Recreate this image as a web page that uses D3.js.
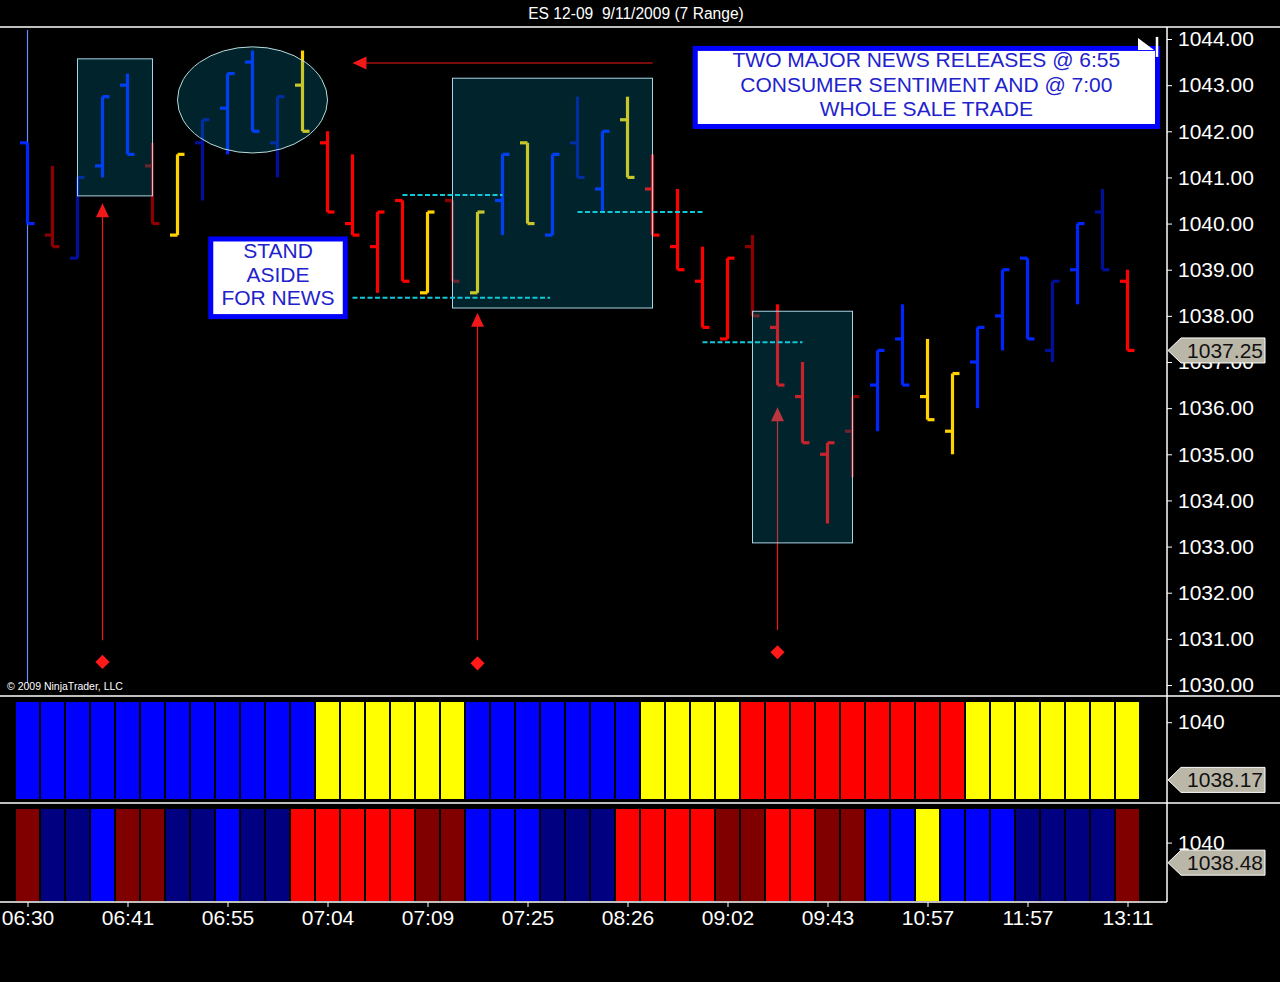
<!DOCTYPE html>
<meta charset="utf-8">

<!-- Load d3.js -->
<script src="https://d3js.org/d3.v7.min.js"></script>

<style>
    body { margin: 0; background: #000; }
    text { font-family: "Liberation Sans", Arial, sans-serif; }
</style>

<!-- Create a div where the graph will take place -->
<div id="ES_Range"></div>

<script>

    // time labels, one every 4 bars
    var times = ["06:30", "06:41", "06:55", "07:04", "07:09", "07:25", "08:26", "09:02", "09:43", "10:57", "11:57", "13:11"];
    var timeBars = [0, 4, 8, 12, 16, 20, 24, 28, 32, 36, 40, 44];

    // price axis tick labels
    var priceTicks = [1030, 1031, 1032, 1033, 1034, 1035, 1036, 1037, 1038, 1039, 1040, 1041, 1042, 1043, 1044];

    // 7 range bars (open / high / low / close)
    var opens  = [1041.75, 1039.75, 1039.25, 1041.25, 1043.00, 1041.25, 1039.75, 1041.75, 1042.50, 1043.50, 1041.75, 1043.00,
                  1041.75, 1040.00, 1039.50, 1040.50, 1038.50, 1040.50, 1038.50, 1040.50, 1041.75, 1039.75, 1041.75, 1040.75,
                  1042.25, 1040.75, 1039.50, 1038.75, 1037.50, 1039.50, 1037.75, 1036.25, 1035.00, 1035.50, 1036.50, 1037.50,
                  1036.25, 1035.50, 1037.00, 1038.00, 1039.25, 1037.25, 1039.00, 1040.25, 1038.75];
    var highs  = [1041.75, 1041.25, 1041.00, 1042.75, 1043.25, 1041.75, 1041.50, 1042.25, 1043.25, 1043.75, 1042.75, 1043.75,
                  1042.00, 1041.50, 1040.25, 1040.50, 1040.25, 1040.50, 1040.25, 1041.50, 1041.75, 1041.50, 1042.75, 1042.00,
                  1042.75, 1041.50, 1040.75, 1039.50, 1039.25, 1039.75, 1038.25, 1037.00, 1035.25, 1036.25, 1037.25, 1038.25,
                  1037.50, 1036.75, 1037.75, 1039.00, 1039.25, 1038.75, 1040.00, 1040.75, 1039.00];
    var lows   = [1040.00, 1039.50, 1039.25, 1041.00, 1041.50, 1040.00, 1039.75, 1040.50, 1041.50, 1042.00, 1041.00, 1042.00,
                  1040.25, 1039.75, 1038.50, 1038.75, 1038.50, 1038.75, 1038.50, 1039.75, 1040.00, 1039.75, 1041.00, 1040.25,
                  1041.00, 1039.75, 1039.00, 1037.75, 1037.50, 1038.00, 1036.50, 1035.25, 1033.50, 1034.50, 1035.50, 1036.50,
                  1035.75, 1035.00, 1036.00, 1037.25, 1037.50, 1037.00, 1038.25, 1039.00, 1037.25];
    var closes = [1040.00, 1039.50, 1041.00, 1042.75, 1041.50, 1040.00, 1041.50, 1042.25, 1043.25, 1042.00, 1042.75, 1042.00,
                  1040.25, 1039.75, 1040.25, 1038.75, 1040.25, 1038.75, 1040.25, 1041.50, 1040.00, 1041.50, 1041.00, 1042.00,
                  1041.00, 1039.75, 1039.00, 1037.75, 1039.25, 1038.00, 1036.50, 1035.25, 1035.25, 1036.25, 1037.25, 1036.50,
                  1035.75, 1036.75, 1037.75, 1039.00, 1037.50, 1038.75, 1040.00, 1039.00, 1037.25];

    // colour of each price bar
    var barColor = ["B", "DR", "DB", "B", "B", "DR", "Y", "DB", "B", "B", "DB", "Y",
                    "R", "R", "R", "R", "Y", "DR", "Y", "B", "Y", "B", "DB", "B",
                    "Y", "R", "R", "R", "R", "DR", "R", "R", "R", "DR", "B", "B",
                    "Y", "Y", "B", "B", "B", "DB", "B", "DB", "R"];

    // colour blocks of the two lower panels
    var trendColor = ["B", "B", "B", "B", "B", "B", "B", "B", "B", "B", "B", "B",
                      "Y", "Y", "Y", "Y", "Y", "Y", "B", "B", "B", "B", "B", "B",
                      "B", "Y", "Y", "Y", "Y", "R", "R", "R", "R", "R", "R", "R",
                      "R", "R", "Y", "Y", "Y", "Y", "Y", "Y", "Y"];
    var signalColor = ["DR", "DB", "DB", "B", "DR", "DR", "DB", "DB", "B", "DB", "DB", "R",
                       "R", "R", "R", "R", "DR", "DR", "B", "B", "B", "DB", "DB", "DB",
                       "R", "R", "R", "R", "DR", "DR", "R", "R", "DR", "DR", "B", "B",
                       "Y", "B", "B", "B", "DB", "DB", "DB", "DB", "DR"];

    // last values shown in the axis tags
    var lastPrice = 1037.25, trendLast = 1038.17, signalLast = 1038.48;

    // drawing objects: [first bar, last bar, top price, bottom price]
    var boxes = [[2, 5, 1043.57, 1040.60], [17, 25, 1043.15, 1038.17], [29, 33, 1038.10, 1033.08]];
    var ellipse = [6, 12, 1043.83, 1041.53];
    // dashed levels: [first bar, last bar, price]
    var levels = [[15, 19, 1040.62], [13, 20.9, 1038.39], [22, 27, 1040.25], [27, 31, 1037.43]];
    // up arrows: [bar, from price, tip price] and diamonds: [bar, price]
    var upArrows = [[3, 1030.97, 1040.44], [18, 1030.97, 1038.07], [30, 1031.19, 1036.02]];
    var diamonds = [[3, 1030.50], [18, 1030.47], [30, 1030.71]];
    var leftArrow = [25, 13, 1043.48];

    var barPalette = {B: "#0026ff", DB: "#00109a", R: "#ff0000", DR: "#8c0000", Y: "#ffd200"};
    var blockPalette = {B: "#0000ff", DB: "#000080", R: "#ff0000", DR: "#800000", Y: "#ffff00"};

    var width = 1280, height = 982, axisX = 1167;

    var svg = d3.select("#ES_Range")
      .append("svg")
        .attr("width", width)
        .attr("height", height)
        .style("background", "#000");

    // scales
    var x = d3.scaleLinear().domain([0, 44]).range([27.5, 1127.5]);
    var y = d3.scaleLinear().domain([1030, 1044]).range([685, 39]);
    var yTrend = d3.scaleLinear().domain([1037.5, 1040.8]).range([801, 697]);
    var ySignal = d3.scaleLinear().domain([1035.5, 1043.0]).range([902, 803]);

    // title
    svg.append("text")
        .attr("x", 636)
        .attr("y", 18.5)
        .attr("text-anchor", "middle")
        .style("white-space", "pre")
        .style("font-size", "15.6px")
        .attr("fill", "#fff")
        .text("ES 12-09  9/11/2009 (7 Range)");

    // session start line
    svg.append("line")
        .attr("x1", x(0)).attr("x2", x(0))
        .attr("y1", 30).attr("y2", 683)
        .attr("stroke", "#6a8cff").attr("stroke-width", 1.2);

    // arrows to the news bars (under the boxes)
    upArrows.forEach(function(a) {
        var cx = x(a[0]), tip = y(a[2]);
        svg.append("line")
            .attr("x1", cx).attr("x2", cx)
            .attr("y1", y(a[1])).attr("y2", tip + 12)
            .attr("stroke", "#f01818").attr("stroke-width", 1.2);
        svg.append("path")
            .attr("d", "M" + cx + "," + tip + "L" + (cx + 6.5) + "," + (tip + 14) + "L" + (cx - 6.5) + "," + (tip + 14) + "Z")
            .attr("fill", "#f01818");
    });

    diamonds.forEach(function(d) {
        svg.append("rect")
            .attr("x", -5).attr("y", -5).attr("width", 10).attr("height", 10)
            .attr("transform", "translate(" + x(d[0]) + "," + y(d[1]) + ") rotate(45)")
            .attr("fill", "#ff1a1a");
    });

    // price bars
    var bars = svg.append("g")
      .selectAll("g")
      .data(d3.range(opens.length))
      .enter()
      .append("g")
        .attr("stroke", function(i) { return barPalette[barColor[i]]; })
        .attr("stroke-width", 3.2);

    bars.append("line")
        .attr("x1", function(i) { return x(i); })
        .attr("x2", function(i) { return x(i); })
        .attr("y1", function(i) { return y(highs[i]); })
        .attr("y2", function(i) { return y(lows[i]); });
    bars.append("line")
        .attr("x1", function(i) { return x(i) - 7.5; })
        .attr("x2", function(i) { return x(i); })
        .attr("y1", function(i) { return y(opens[i]); })
        .attr("y2", function(i) { return y(opens[i]); });
    bars.append("line")
        .attr("x1", function(i) { return x(i); })
        .attr("x2", function(i) { return x(i) + 7; })
        .attr("y1", function(i) { return y(closes[i]); })
        .attr("y2", function(i) { return y(closes[i]); });

    // shaded boxes drawn over the bars
    svg.append("g")
      .selectAll("rect")
      .data(boxes)
      .enter()
      .append("rect")
        .attr("x", function(b) { return x(b[0]); })
        .attr("y", function(b) { return y(b[2]); })
        .attr("width", function(b) { return x(b[1]) - x(b[0]); })
        .attr("height", function(b) { return y(b[3]) - y(b[2]); })
        .attr("fill", "rgba(0,160,200,0.22)")
        .attr("stroke", "#a8d4e4")
        .attr("stroke-width", 1);

    svg.append("ellipse")
        .attr("cx", (x(ellipse[0]) + x(ellipse[1])) / 2)
        .attr("cy", (y(ellipse[2]) + y(ellipse[3])) / 2)
        .attr("rx", (x(ellipse[1]) - x(ellipse[0])) / 2)
        .attr("ry", (y(ellipse[3]) - y(ellipse[2])) / 2)
        .attr("fill", "rgba(0,160,200,0.22)")
        .attr("stroke", "#b8dcdc")
        .attr("stroke-width", 1);

    // dashed levels
    svg.append("g")
      .selectAll("line")
      .data(levels)
      .enter()
      .append("line")
        .attr("x1", function(l) { return x(l[0]); })
        .attr("x2", function(l) { return x(l[1]); })
        .attr("y1", function(l) { return y(l[2]); })
        .attr("y2", function(l) { return y(l[2]); })
        .attr("stroke", "#10c8d8")
        .attr("stroke-width", 2)
        .attr("stroke-dasharray", "5,2.5");

    // arrow pointing back to the spike
    var ay = y(leftArrow[2]), ax0 = x(leftArrow[0]), ax1 = x(leftArrow[1]);
    svg.append("line")
        .attr("x1", ax0).attr("x2", ax1 + 12)
        .attr("y1", ay).attr("y2", ay)
        .attr("stroke", "#f01818").attr("stroke-width", 1.2);
    svg.append("path")
        .attr("d", "M" + ax1 + "," + ay + "L" + (ax1 + 14) + "," + (ay - 6.5) + "L" + (ax1 + 14) + "," + (ay + 6.5) + "Z")
        .attr("fill", "#f01818");

    // text notes
    function note(b, lines, lineHeight) {
        var x0 = x(b[0]), x1 = x(b[1]), y0 = y(b[2]), y1 = y(b[3]);
        svg.append("rect")
            .attr("x", x0 + 2.5).attr("y", y0 + 2.5)
            .attr("width", x1 - x0 - 5).attr("height", y1 - y0 - 5)
            .attr("fill", "#fff")
            .attr("stroke", "#0000ff")
            .attr("stroke-width", 5);
        lines.forEach(function(t, k) {
            svg.append("text")
                .attr("x", (x0 + x1) / 2)
                .attr("y", (y0 + y1) / 2 + (k - (lines.length - 1) / 2) * lineHeight)
                .attr("dy", "0.2em")
                .attr("text-anchor", "middle")
                .style("font-size", "21px")
                .attr("fill", "#2222cc")
                .text(t);
        });
    }
    note([7.23, 12.81, 1039.72, 1037.93], ["STAND", "ASIDE", "FOR NEWS"], 23.5);
    note([26.61, 45.3, 1043.85, 1042.05], ["TWO MAJOR NEWS RELEASES @ 6:55", "CONSUMER SENTIMENT AND @ 7:00", "WHOLE SALE TRADE"], 24.2);

    // small white drawing marker on the note corner
    var mx = x(45.3), my = y(1043.85);
    svg.append("path")
        .attr("d", "M" + (mx - 22) + "," + (my - 8) + "L" + (mx - 6) + "," + (my + 4) + "L" + (mx - 22) + "," + (my + 4) + "Z")
        .attr("fill", "#fff");
    svg.append("line")
        .attr("x1", mx - 3).attr("x2", mx - 3)
        .attr("y1", my - 9).attr("y2", my + 11)
        .attr("stroke", "#fff").attr("stroke-width", 2.5);

    svg.append("text")
        .attr("x", 7).attr("y", 690)
        .style("font-size", "10.5px")
        .attr("fill", "#fff")
        .text("\u00a9 2009 NinjaTrader, LLC");

    // lower panels: colour blocks
    svg.append("g")
      .selectAll("rect")
      .data(d3.range(trendColor.length))
      .enter()
      .append("rect")
        .attr("x", function(i) { return x(i) - 11.5; })
        .attr("width", 23)
        .attr("y", yTrend.range()[1] + 5)
        .attr("height", yTrend.range()[0] - yTrend.range()[1] - 7)
        .attr("fill", function(i) { return blockPalette[trendColor[i]]; });

    svg.append("g")
      .selectAll("rect")
      .data(d3.range(signalColor.length))
      .enter()
      .append("rect")
        .attr("x", function(i) { return x(i) - 11.5; })
        .attr("width", 23)
        .attr("y", ySignal.range()[1] + 6)
        .attr("height", ySignal.range()[0] - ySignal.range()[1] - 7)
        .attr("fill", function(i) { return blockPalette[signalColor[i]]; });

    // frame lines
    var frame = svg.append("g").attr("stroke", "#fff").attr("stroke-width", 1.5);
    frame.append("line").attr("x1", 0).attr("x2", width).attr("y1", 27).attr("y2", 27);
    frame.append("line").attr("x1", 0).attr("x2", width).attr("y1", 696).attr("y2", 696);
    frame.append("line").attr("x1", 0).attr("x2", width).attr("y1", 803).attr("y2", 803);
    frame.append("line").attr("x1", 0).attr("x2", axisX).attr("y1", 902).attr("y2", 902);
    frame.append("line").attr("x1", axisX).attr("x2", axisX).attr("y1", 27).attr("y2", 902);

    function styleAxis(g) {
        g.select(".domain").remove();
        g.attr("font-family", "Liberation Sans, Arial, sans-serif").attr("font-size", 21);
        g.selectAll("line").attr("stroke", "#fff");
        g.selectAll("text").attr("fill", "#fff");
    }

    svg.append("g")
        .attr("transform", "translate(" + axisX + ",0)")
        .call(d3.axisRight(y).tickValues(priceTicks).tickSize(5).tickPadding(6).tickFormat(d3.format(".2f")))
        .call(styleAxis);
    svg.append("g")
        .attr("transform", "translate(" + axisX + ",0)")
        .call(d3.axisRight(yTrend).tickValues([1040]).tickSize(5).tickPadding(6).tickFormat(d3.format("d")))
        .call(styleAxis);
    svg.append("g")
        .attr("transform", "translate(" + axisX + ",0)")
        .call(d3.axisRight(ySignal).tickValues([1040]).tickSize(5).tickPadding(6).tickFormat(d3.format("d")))
        .call(styleAxis);

    svg.append("g")
        .attr("transform", "translate(0,902)")
        .call(d3.axisBottom(x).tickValues(timeBars).tickSize(5).tickPadding(3)
            .tickFormat(function(d, k) { return times[k]; }))
        .call(styleAxis);

    // last value tags
    function tag(yy, value) {
        var g = svg.append("g").attr("transform", "translate(" + (axisX + 1) + "," + yy + ")");
        g.append("path")
            .attr("d", "M0,0L13,-12.5L97,-12.5L97,12.5L13,12.5Z")
            .attr("fill", "#bab7a8")
            .attr("stroke", "#fff")
            .attr("stroke-width", 1);
        g.append("text")
            .attr("x", 95)
            .attr("dy", "0.36em")
            .attr("text-anchor", "end")
            .style("font-size", "21px")
            .attr("fill", "#111")
            .text(d3.format(".2f")(value));
    }
    tag(y(lastPrice), lastPrice);
    tag(yTrend(trendLast), trendLast);
    tag(ySignal(signalLast), signalLast);

</script>
